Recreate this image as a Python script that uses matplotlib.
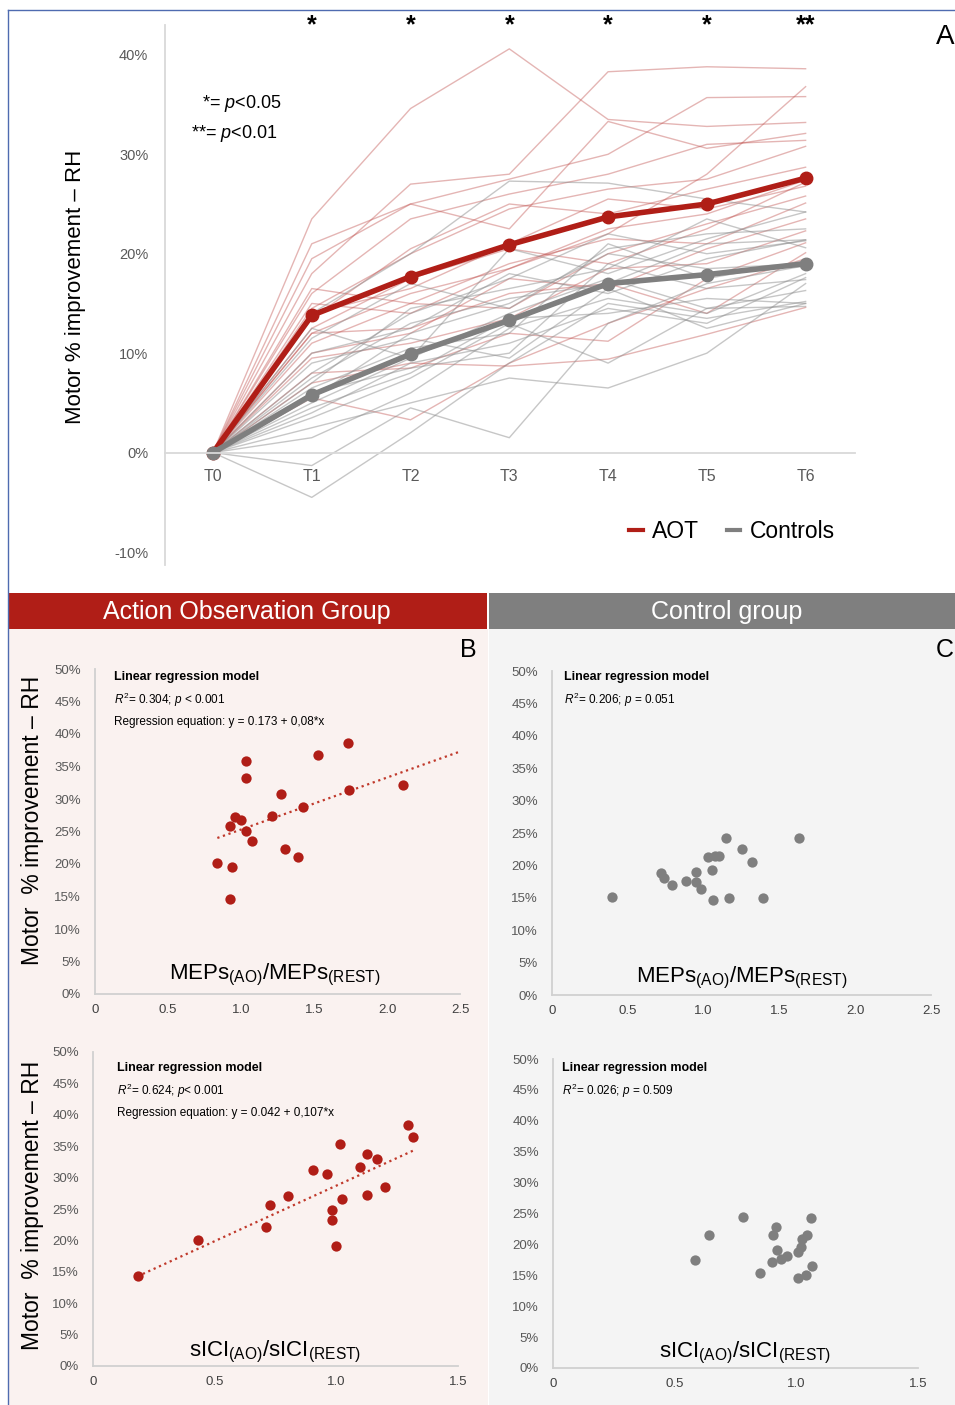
import numpy as np
import matplotlib
matplotlib.use("Agg")
import matplotlib.pyplot as plt
from matplotlib.patches import Rectangle
from matplotlib.lines import Line2D
from matplotlib.ticker import PercentFormatter

plt.rcParams['font.family'] = ['Liberation Sans', 'DejaVu Sans']
plt.rcParams['mathtext.fontset'] = 'custom'
plt.rcParams['mathtext.rm'] = 'Liberation Sans'
plt.rcParams['mathtext.it'] = 'Liberation Sans:italic'
plt.rcParams['mathtext.bf'] = 'Liberation Sans:bold'
plt.rcParams['axes.unicode_minus'] = False

# ---- data (motor % improvement, values in %) ----
timepoints = ["T0", "T1", "T2", "T3", "T4", "T5", "T6"]
significance = ["", "*", "*", "*", "*", "*", "**"]

aot_subjects = [
    [0, 23.5, 34.6, 40.6, 33.5, 32.8, 33.2],
    [0, 18.0, 27.0, 28.0, 38.3, 38.8, 38.6],
    [0, 21.0, 25.0, 27.5, 30.0, 35.7, 35.8],
    [0, 12.0, 16.0, 18.5, 22.0, 28.0, 36.8],
    [0, 19.5, 25.0, 22.5, 33.3, 30.6, 32.1],
    [0, 16.0, 23.5, 26.0, 28.0, 31.0, 31.4],
    [0, 14.5, 20.0, 24.5, 26.5, 27.5, 30.8],
    [0, 13.5, 20.5, 25.0, 24.0, 26.5, 28.7],
    [0, 15.0, 14.0, 18.5, 22.5, 24.0, 27.4],
    [0, 12.5, 17.5, 20.5, 19.0, 22.5, 27.2],
    [0, 14.0, 16.5, 21.0, 25.5, 24.5, 26.8],
    [0, 11.0, 15.0, 14.5, 20.0, 23.0, 25.8],
    [0, 16.5, 15.0, 19.0, 21.5, 21.0, 25.1],
    [0, 10.0, 12.0, 17.5, 16.5, 20.5, 23.5],
    [0, 9.5, 11.0, 13.5, 18.5, 19.0, 22.3],
    [0, 8.0, 8.5, 12.0, 11.2, 17.5, 21.1],
    [0, 12.0, 12.5, 16.0, 17.0, 14.0, 20.1],
    [0, 5.5, 3.3, 9.0, 13.0, 16.5, 19.5],
    [0, 7.0, 9.0, 8.7, 9.4, 11.9, 14.6],
]
ctrl_subjects = [
    [0, -4.5, 2.0, 9.0, 15.0, 13.5, 15.2],
    [0, -1.3, 4.5, 1.5, 13.0, 17.0, 18.8],
    [0, 1.5, 6.0, 12.5, 15.5, 14.0, 18.0],
    [0, 2.5, 5.0, 7.5, 6.5, 10.0, 17.0],
    [0, 4.0, 9.0, 11.0, 14.5, 13.0, 17.6],
    [0, 5.5, 12.0, 15.0, 20.0, 18.5, 19.0],
    [0, 6.0, 8.5, 10.0, 19.0, 16.5, 17.4],
    [0, 3.5, 7.5, 13.0, 9.0, 14.5, 16.3],
    [0, 8.0, 14.0, 17.5, 22.0, 20.0, 21.3],
    [0, 7.5, 13.0, 15.5, 17.0, 21.0, 21.4],
    [0, 10.0, 12.5, 18.0, 16.0, 19.5, 21.4],
    [0, 6.5, 10.5, 12.0, 21.0, 17.5, 19.3],
    [0, 5.0, 9.5, 14.0, 17.5, 14.5, 14.7],
    [0, 14.0, 20.0, 27.3, 27.1, 25.5, 24.2],
    [0, 9.0, 11.5, 9.5, 16.5, 12.5, 15.0],
    [0, 11.5, 17.0, 14.5, 20.5, 22.0, 22.5],
    [0, 7.0, 14.5, 16.5, 18.5, 23.5, 20.6],
    [0, 4.5, 8.0, 13.5, 14.0, 15.5, 15.0],
    [0, 12.5, 9.5, 20.5, 18.0, 21.5, 24.2],
]
aot_mean = [0, 13.8, 17.7, 20.9, 23.7, 25.0, 27.6]
ctrl_mean = [0, 5.8, 9.9, 13.3, 17.0, 17.9, 19.0]

# MEPs(AO)/MEPs(REST) vs improvement
mep_aot_x = [1.735, 1.525, 1.032, 1.032, 1.274, 1.742, 2.112, 1.425, 1.210, 0.957,
             0.998, 0.922, 1.032, 1.075, 1.299, 1.393, 0.838, 0.941, 0.922]
mep_aot_y = [38.6, 36.8, 35.8, 33.2, 30.8, 31.4, 32.1, 28.7, 27.4, 27.2,
             26.8, 25.8, 25.1, 23.5, 22.3, 21.1, 20.1, 19.5, 14.6]
mep_aot_fit = (17.3, 8.0)  # intercept, slope from the printed equation (in %)
mep_ctrl_x = [0.396, 0.721, 0.736, 0.793, 0.883, 0.949, 0.949, 0.980, 1.026, 1.077,
              1.103, 1.057, 1.061, 1.145, 1.167, 1.253, 1.318, 1.395, 1.626]
mep_ctrl_y = [15.2, 18.8, 18.0, 17.0, 17.6, 19.0, 17.4, 16.3, 21.3, 21.4,
              21.4, 19.3, 14.7, 24.2, 15.0, 22.5, 20.6, 15.0, 24.2]

# sICI(AO)/sICI(REST) vs improvement
sici_aot_x = [0.183, 0.432, 0.712, 0.726, 0.803, 0.905, 0.961, 0.984, 0.983, 1.000,
              1.017, 1.023, 1.099, 1.128, 1.128, 1.169, 1.199, 1.296, 1.317]
sici_aot_y = [14.3, 20.0, 22.1, 25.6, 27.1, 31.2, 30.5, 24.9, 23.2, 19.1,
              35.4, 26.6, 31.7, 33.8, 27.3, 33.0, 28.5, 38.3, 36.5]
sici_ctrl_x = [0.582, 0.640, 0.781, 0.849, 0.901, 0.906, 0.917, 0.922, 0.937, 0.962,
               1.006, 1.018, 1.023, 1.044, 1.060, 1.066, 1.007, 1.038]
sici_ctrl_y = [17.5, 21.5, 24.4, 15.3, 17.1, 21.5, 22.8, 19.1, 17.7, 18.1,
               18.7, 19.5, 20.8, 21.5, 24.2, 16.5, 14.6, 15.1]

mep_ticks = [0, 0.5, 1.0, 1.5, 2.0, 2.5]
mep_ticklabels = ["0", "0.5", "1.0", "1.5", "2.0", "2.5"]
sici_ticks = [0, 0.5, 1.0, 1.5]
sici_ticklabels = ["0", "0.5", "1.0", "1.5"]

RED = '#b01e17'
GREY = '#7f7f7f'
TICK = '#595959'

W, H = 955, 1405
fig = plt.figure(figsize=(W / 100, H / 100), dpi=100)


def fx(px):
    return px / W


def fy(py):
    return 1 - py / H


def box(x0, y0, x1, y1):
    return [fx(x0), fy(y1), (x1 - x0) / W, (y1 - y0) / H]


def rect(x0, y0, x1, y1, color):
    fig.add_artist(Rectangle((fx(x0), fy(y1)), (x1 - x0) / W, (y1 - y0) / H,
                             transform=fig.transFigure, color=color, zorder=-5, lw=0))


# backgrounds and headers
rect(8, 629, 488, 1405, '#faf2f0')
rect(489, 629, 955, 1405, '#f4f4f4')
rect(8, 593, 487, 629, RED)
rect(489, 593, 955, 629, GREY)
fig.text(fx(247), fy(612), "Action Observation Group", color='white', fontsize=18, ha='center', va='center')
fig.text(fx(727), fy(612), "Control group", color='white', fontsize=18, ha='center', va='center')
fig.add_artist(Line2D([fx(8), fx(955)], [fy(10), fy(10)], transform=fig.transFigure, color='#4f6bb0', lw=1))
fig.add_artist(Line2D([fx(8), fx(8)], [fy(10), fy(1405)], transform=fig.transFigure, color='#4f6bb0', lw=1))

# ---- panel A ----
ax = fig.add_axes(box(165, 25, 855, 565))
ax.set_facecolor('none')
t = np.arange(len(timepoints))
for s in aot_subjects:
    ax.plot(t, s, color='#c0504d', alpha=0.42, lw=1)
for s in ctrl_subjects:
    ax.plot(t, s, color='#8f8f8f', alpha=0.5, lw=1)
ax.plot(t, aot_mean, color=RED, lw=4, marker='o', ms=9)
ax.plot(t, ctrl_mean, color=GREY, lw=4, marker='o', ms=9)
ax.set_xlim(-0.486, 6.5)
ax.set_ylim(-11.3, 43)
ax.set_yticks([-10, 0, 10, 20, 30, 40])
ax.yaxis.set_major_formatter(PercentFormatter(100, decimals=0))
ax.set_xticks(t)
ax.set_xticklabels(timepoints, fontweight='bold')
for sp in ['top', 'right']:
    ax.spines[sp].set_visible(False)
ax.spines['left'].set_color('#d9d9d9')
ax.spines['bottom'].set_color('#d9d9d9')
ax.spines['bottom'].set_position(('data', 0))
ax.spines['left'].set_linewidth(1.3)
ax.spines['bottom'].set_linewidth(1.3)
ax.tick_params(axis='y', length=0, pad=12, labelcolor=TICK, labelsize=10.5)
ax.tick_params(axis='x', length=0, pad=12, labelcolor=TICK, labelsize=11.5)
for i, s in enumerate(significance):
    ax.text(i, 1.0, s, transform=ax.get_xaxis_transform(), ha='center', va='center',
            fontsize=18, fontweight='bold')
ax.legend(handles=[Line2D([], [], color=RED, lw=3), Line2D([], [], color=GREY, lw=3)],
          labels=['AOT', 'Controls'], ncol=2, frameon=False, fontsize=16.5,
          handlelength=0.6, handletextpad=0.4, columnspacing=1.2,
          loc='center', bbox_to_anchor=(fx(732), fy(532)), bbox_transform=fig.transFigure)
fig.text(fx(75), fy(287), "Motor % improvement – RH", rotation=90, fontsize=16, ha='center', va='center')
fig.text(fx(202), fy(103), "*= $p$<0.05", fontsize=13, ha='left', va='center')
fig.text(fx(191), fy(134), "**= $p$<0.01", fontsize=13, ha='left', va='center')
fig.text(fx(945), fy(37), "A", fontsize=20, ha='center', va='center')


# ---- scatter panels ----
def scatter_panel(bounds, xs, ys, color, xmax, ticks, ticklabels, notes, note_xy,
                  xlabel, xlabel_xy, fit=None, fit_end=None):
    a = fig.add_axes(box(*bounds))
    a.set_facecolor('none')
    a.scatter(xs, ys, s=55, color=color, zorder=3, linewidths=0)
    if fit_end is not None:
        if fit is None:
            k, b = np.polyfit(xs, ys, 1)
        else:
            b, k = fit
        xx = np.array([min(xs), fit_end])
        a.plot(xx, b + k * xx, ls=':', color='#c0392b', lw=1.6)
    a.set_xlim(0, xmax)
    a.set_ylim(0, 50)
    a.set_yticks(np.arange(0, 51, 5))
    a.yaxis.set_major_formatter(PercentFormatter(100, decimals=0))
    a.set_xticks(ticks)
    a.set_xticklabels(ticklabels)
    for sp in ['top', 'right']:
        a.spines[sp].set_visible(False)
    for sp in ['left', 'bottom']:
        a.spines[sp].set_color('#d0d0d0')
        a.spines[sp].set_linewidth(1.3)
    a.tick_params(axis='y', length=0, pad=10, labelcolor=TICK, labelsize=9.5)
    a.tick_params(axis='x', length=0, pad=7, labelcolor='#404040', labelsize=9.5)
    nx, ny = note_xy
    for j, line in enumerate(notes):
        fig.text(fx(nx), fy(ny + 22.5 * j), line, fontsize=9 if j == 0 else 8.5,
                 fontweight='bold' if j == 0 else 'normal', ha='left', va='center')
    fig.text(fx(xlabel_xy[0]), fy(xlabel_xy[1]), xlabel, fontsize=16, ha='center', va='center')
    return a


mep_label = r"MEPs$_{\rm (AO)}$/MEPs$_{\rm (REST)}$"
sici_label = r"sICI$_{\rm (AO)}$/sICI$_{\rm (REST)}$"

scatter_panel((95, 669, 460, 994), mep_aot_x, mep_aot_y, RED, 2.5, mep_ticks, mep_ticklabels,
              ["Linear regression model", r"$R^2$= 0.304; $p$ < 0.001",
               "Regression equation: y = 0.173 + 0,08*x"], (114, 677),
              mep_label, (275, 975), fit=mep_aot_fit, fit_end=2.5)
scatter_panel((552, 671, 931, 995), mep_ctrl_x, mep_ctrl_y, GREY, 2.5, mep_ticks, mep_ticklabels,
              ["Linear regression model", r"$R^2$= 0.206; $p$ = 0.051"], (564, 677),
              mep_label, (742, 978))
scatter_panel((93, 1052, 458, 1366), sici_aot_x, sici_aot_y, RED, 1.5, sici_ticks, sici_ticklabels,
              ["Linear regression model", r"$R^2$= 0.624; $p$< 0.001",
               "Regression equation: y = 0.042 + 0,107*x"], (117, 1068),
              sici_label, (275, 1352), fit_end=max(sici_aot_x))
scatter_panel((553, 1059, 918, 1368), sici_ctrl_x, sici_ctrl_y, GREY, 1.5, sici_ticks, sici_ticklabels,
              ["Linear regression model", r"$R^2$= 0.026; $p$ = 0.509"], (562, 1068),
              sici_label, (745, 1353))

fig.text(fx(33), fy(820), "Motor  % improvement – RH", rotation=90, fontsize=16.5, ha='center', va='center')
fig.text(fx(33), fy(1205), "Motor  % improvement – RH", rotation=90, fontsize=16.5, ha='center', va='center')
fig.text(fx(468), fy(650), "B", fontsize=18, ha='center', va='center')
fig.text(fx(945), fy(650), "C", fontsize=18, ha='center', va='center')

fig.savefig("out.png", dpi=100)
